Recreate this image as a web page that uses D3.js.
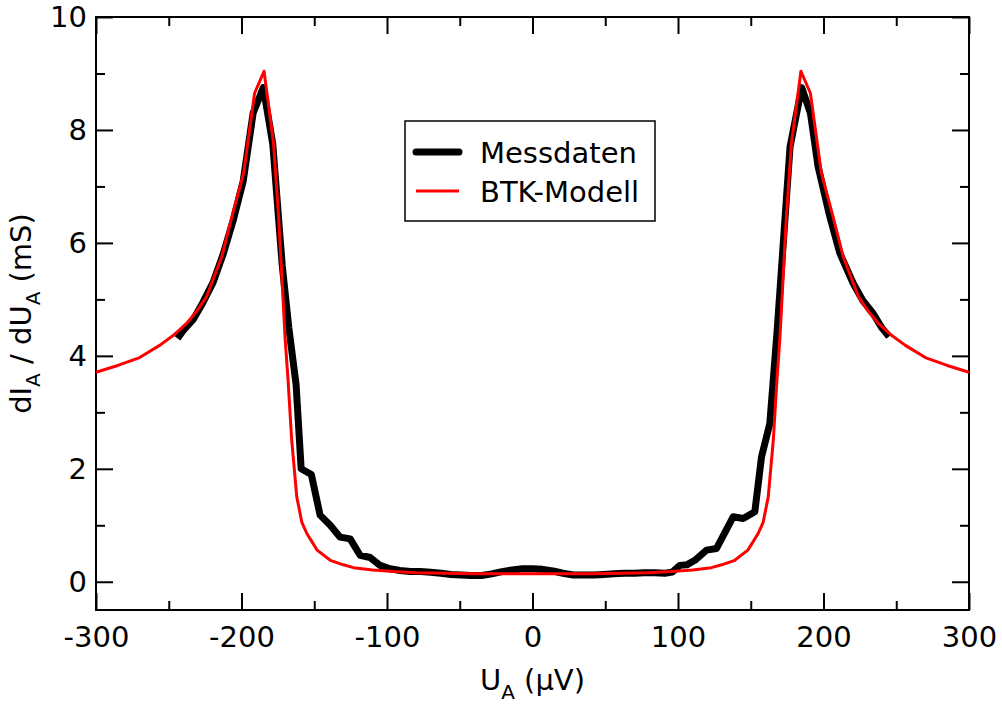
<!DOCTYPE html>
<html>
<head>
<meta charset="utf-8">
<script src="https://cdn.jsdelivr.net/npm/d3@7/dist/d3.min.js"></script>
<style>
  html, body { margin: 0; padding: 0; background: #fff; }
  text { font-family: "DejaVu Sans", sans-serif; }
</style>
</head>
<body>
<svg id="chart" width="1002" height="705"></svg>
<script>
// ---- data ----
const xTicksMajor = [-300, -200, -100, 0, 100, 200, 300];
const xTicksMinor = [-250, -150, -50, 50, 150, 250];
const yTicksMajor = [0, 2, 4, 6, 8, 10];
const yTicksMinor = [1, 3, 5, 7, 9];

const seriesNames = ["Messdaten", "BTK-Modell"];

const messX = [-244, -240, -233, -226.4, -219.5, -212.6, -205.7, -198.8, -192, -185,
  -178.5, -172, -167.5, -162.5, -159, -152, -146, -139, -132.2, -125.3,
  -118.5, -111.6, -104.7, -98, -91, -84, -77, -70, -63, -56,
  -49, -42, -35, -28, -21, -14, -7, 0, 7, 14,
  21, 28, 35, 42, 49, 56, 63, 70, 77, 84,
  91, 96, 101.3, 106, 111.6, 119.6, 126.5, 137.9, 144.8, 152.8,
  157.4, 163.1, 168, 177, 185, 191, 196.3, 204.3, 211.2, 220.3,
  227, 234.1, 240, 245];
const messY = [4.31, 4.45, 4.65, 4.95, 5.3, 5.8, 6.4, 7.1, 8.3, 8.75,
  7.75, 5.6, 4.5, 3.5, 2.0, 1.9, 1.18, 1.0, 0.79, 0.76,
  0.47, 0.43, 0.29, 0.23, 0.2, 0.18, 0.18, 0.17, 0.15, 0.13,
  0.12, 0.11, 0.11, 0.14, 0.18, 0.21, 0.23, 0.23, 0.22, 0.19,
  0.15, 0.12, 0.12, 0.12, 0.13, 0.14, 0.15, 0.15, 0.16, 0.16,
  0.15, 0.17, 0.29, 0.30, 0.38, 0.56, 0.59, 1.15, 1.12, 1.24,
  2.21, 2.8, 4.4, 7.7, 8.75, 8.3, 7.35, 6.47, 5.82, 5.29,
  4.98, 4.75, 4.5, 4.34];

const btkX = [-300, -285, -270, -256, -247, -237.5, -230.5, -224, -213.5, -206.5, -198.5,
  -191, -184.5, -178, -174.5, -170, -168, -165.5, -162, -158.5, -155,
  -148, -139, -130, -123, -110, -95, -80, -60, -40, -20,
  0, 20, 40, 60, 80, 95, 110, 123, 130, 139,
  148, 155, 158.5, 162, 165.5, 168, 170, 174.5, 178, 184.5,
  191, 198.5, 206.5, 213.5, 224, 230.5, 237.5, 247, 256, 270, 285, 300];
const btkY = [3.71, 3.83, 3.97, 4.19, 4.36, 4.58, 4.80, 5.05, 5.76, 6.47, 7.24,
  8.65, 9.04, 7.77, 6.47, 4.3, 3.57, 2.51, 1.50, 1.05, 0.85,
  0.56, 0.38, 0.30, 0.25, 0.21, 0.18, 0.16, 0.15, 0.14, 0.14,
  0.14, 0.14, 0.14, 0.15, 0.16, 0.18, 0.21, 0.25, 0.30, 0.38,
  0.56, 0.85, 1.05, 1.50, 2.51, 3.57, 4.3, 6.47, 7.77, 9.04,
  8.65, 7.24, 6.47, 5.76, 5.05, 4.80, 4.58, 4.36, 4.19, 3.97, 3.83, 3.71];

// ---- layout ----
const svg = d3.select("#chart");
const L = 96, R = 969, T = 17, B = 610;
const FS = 29;

const x = d3.scaleLinear().domain([-300, 300]).range([L, R]);
const y = d3.scaleLinear().domain([-0.5, 10]).range([B, T]);

svg.append("rect").attr("width", 1002).attr("height", 705).attr("fill", "#fff");

function styleAxis(g) {
  g.select(".domain").remove();
  g.selectAll(".tick line").attr("stroke", "#000").attr("stroke-width", 2);
  g.selectAll(".tick text").attr("font-size", FS).attr("fill", "#000")
    .style("font-family", "DejaVu Sans");
}
const fmt = d => String(d);

const MAJ = 17, MIN = 9;
// bottom
svg.append("g").attr("transform", `translate(0,${B})`)
  .call(d3.axisBottom(x).tickValues(xTicksMajor).tickSize(-MAJ).tickPadding(16).tickFormat(fmt))
  .call(styleAxis);
svg.append("g").attr("transform", `translate(0,${B})`)
  .call(d3.axisBottom(x).tickValues(xTicksMinor).tickSize(-MIN).tickFormat(""))
  .call(styleAxis);
// top
svg.append("g").attr("transform", `translate(0,${T})`)
  .call(d3.axisTop(x).tickValues(xTicksMajor).tickSize(-MAJ).tickFormat(""))
  .call(styleAxis);
svg.append("g").attr("transform", `translate(0,${T})`)
  .call(d3.axisTop(x).tickValues(xTicksMinor).tickSize(-MIN).tickFormat(""))
  .call(styleAxis);
// left
svg.append("g").attr("transform", `translate(${L},0)`)
  .call(d3.axisLeft(y).tickValues(yTicksMajor).tickSize(-MAJ).tickPadding(9).tickFormat(fmt))
  .call(styleAxis);
svg.append("g").attr("transform", `translate(${L},0)`)
  .call(d3.axisLeft(y).tickValues(yTicksMinor).tickSize(-MIN).tickFormat(""))
  .call(styleAxis);
// right
svg.append("g").attr("transform", `translate(${R},0)`)
  .call(d3.axisRight(y).tickValues(yTicksMajor).tickSize(-MAJ).tickFormat(""))
  .call(styleAxis);
svg.append("g").attr("transform", `translate(${R},0)`)
  .call(d3.axisRight(y).tickValues(yTicksMinor).tickSize(-MIN).tickFormat(""))
  .call(styleAxis);

// frame
svg.append("rect").attr("x", L).attr("y", T).attr("width", R - L).attr("height", B - T)
  .attr("fill", "none").attr("stroke", "#000").attr("stroke-width", 2);

// lines
const line = d3.line().x(d => x(d[0])).y(d => y(d[1]));
const mess = messX.map((v, i) => [v, messY[i]]);
const btk = btkX.map((v, i) => [v, btkY[i]]);

svg.append("path").datum(mess).attr("d", line)
  .attr("fill", "none").attr("stroke", "#000").attr("stroke-width", 7)
  .attr("stroke-linejoin", "round").attr("stroke-linecap", "butt");
svg.append("path").datum(btk).attr("d", line)
  .attr("fill", "none").attr("stroke", "#ff0000").attr("stroke-width", 3)
  .attr("stroke-linejoin", "round");

// legend
const lg = svg.append("g");
lg.append("rect").attr("x", 405).attr("y", 121).attr("width", 250).attr("height", 100)
  .attr("fill", "#fff").attr("stroke", "#000").attr("stroke-width", 1.5);
lg.append("line").attr("x1", 416).attr("x2", 459).attr("y1", 152).attr("y2", 152)
  .attr("stroke", "#000").attr("stroke-width", 7).attr("stroke-linecap", "round");
lg.append("line").attr("x1", 416).attr("x2", 459).attr("y1", 191).attr("y2", 191)
  .attr("stroke", "#ff0000").attr("stroke-width", 3);
lg.append("text").attr("x", 480).attr("y", 163).attr("font-size", FS).text(seriesNames[0]);
lg.append("text").attr("x", 480).attr("y", 202).attr("font-size", FS).text(seriesNames[1]);

// x axis label
const xl = svg.append("text").attr("x", (L + R) / 2).attr("y", 690)
  .attr("text-anchor", "middle").attr("font-size", FS);
xl.append("tspan").text("U");
xl.append("tspan").attr("font-size", 20).attr("dy", 9).text("A");
xl.append("tspan").attr("dy", -9).text(" (µV)");

// y axis label
const yl = svg.append("text")
  .attr("transform", `translate(31,${(T + B) / 2}) rotate(-90)`)
  .attr("text-anchor", "middle").attr("font-size", FS);
yl.append("tspan").text("dI");
yl.append("tspan").attr("font-size", 20).attr("dy", 9).text("A");
yl.append("tspan").attr("dy", -9).text(" / dU");
yl.append("tspan").attr("font-size", 20).attr("dy", 9).text("A");
yl.append("tspan").attr("dy", -9).text(" (mS)");
</script>
</body>
</html>
